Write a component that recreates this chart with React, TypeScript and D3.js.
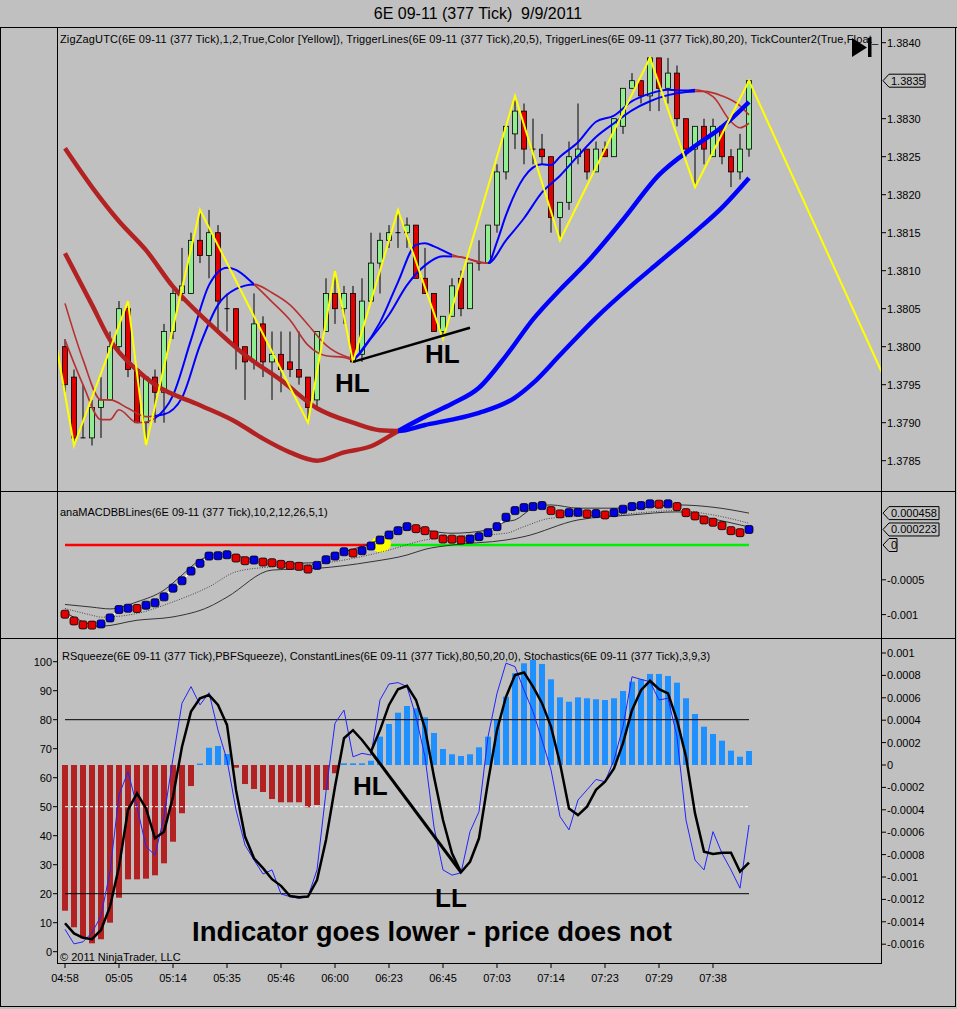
import * as d3 from "d3";

const FONT = "'Liberation Sans', Arial, Helvetica, sans-serif";
const BG = "#c0c0c0";

// x-axis labels, one every 6 bars
const timeLabels = ["04:58", "05:05", "05:14", "05:35", "05:46", "06:00", "06:23", "06:45", "07:03", "07:14", "07:23", "07:29", "07:38"];

// 377 tick bars
const opens = [1.38, 1.3796, 1.3788, 1.3788, 1.3792, 1.3793, 1.38, 1.3805, 1.3797, 1.379, 1.3796, 1.3794, 1.3802, 1.3807, 1.3807, 1.3814, 1.3812, 1.3815, 1.3805, 1.3805, 1.38, 1.3798, 1.3803, 1.3798, 1.3799, 1.3798, 1.3797, 1.3796, 1.3793, 1.3802, 1.3807, 1.3805, 1.3807, 1.3799, 1.3806, 1.3811, 1.3814, 1.3815, 1.3815, 1.3816, 1.3809, 1.3807, 1.3802, 1.3804, 1.3809, 1.3805, 1.3811, 1.3811, 1.3816, 1.3823, 1.3828, 1.3831, 1.3826, 1.3826, 1.3825, 1.3817, 1.3819, 1.3825, 1.3826, 1.3823, 1.3826, 1.3825, 1.3829, 1.3834, 1.3835, 1.3833, 1.3838, 1.3834, 1.3836, 1.383, 1.3826, 1.3829, 1.3825, 1.3829, 1.3825, 1.3823, 1.3826];
const highs = [1.3801, 1.3797, 1.3795, 1.3793, 1.3796, 1.3802, 1.3806, 1.3806, 1.3797, 1.3796, 1.3797, 1.3803, 1.3808, 1.3813, 1.3815, 1.3818, 1.3818, 1.3816, 1.3807, 1.3805, 1.38, 1.3807, 1.3804, 1.3802, 1.3802, 1.3802, 1.3802, 1.3796, 1.3802, 1.3809, 1.381, 1.3808, 1.3808, 1.3809, 1.3815, 1.3815, 1.3816, 1.3818, 1.3817, 1.3816, 1.3813, 1.3807, 1.3804, 1.3809, 1.381, 1.3811, 1.3814, 1.3816, 1.3824, 1.3829, 1.3833, 1.3832, 1.383, 1.3828, 1.3825, 1.3819, 1.3827, 1.3832, 1.3826, 1.3827, 1.3827, 1.383, 1.3834, 1.3836, 1.3835, 1.3838, 1.3838, 1.3838, 1.3837, 1.383, 1.3829, 1.383, 1.383, 1.3829, 1.3826, 1.3828, 1.3835];
const lows = [1.3794, 1.3787, 1.3788, 1.3787, 1.3788, 1.3793, 1.3799, 1.3796, 1.379, 1.3787, 1.379, 1.379, 1.3801, 1.3806, 1.3807, 1.3811, 1.3809, 1.3802, 1.3802, 1.3797, 1.3793, 1.3797, 1.3796, 1.3793, 1.3794, 1.3796, 1.3795, 1.379, 1.3792, 1.3802, 1.3803, 1.3803, 1.3798, 1.3798, 1.3806, 1.3807, 1.3813, 1.3813, 1.3813, 1.3809, 1.3807, 1.3802, 1.3801, 1.3804, 1.3804, 1.3805, 1.381, 1.3811, 1.3815, 1.3822, 1.3826, 1.3824, 1.3824, 1.3824, 1.3815, 1.3814, 1.3818, 1.3824, 1.3822, 1.3823, 1.3825, 1.3825, 1.3828, 1.3834, 1.3832, 1.3831, 1.3831, 1.3832, 1.3829, 1.3825, 1.3821, 1.3824, 1.3825, 1.3824, 1.3821, 1.3822, 1.3825];
const closes = [1.3795, 1.3788, 1.3788, 1.3792, 1.3793, 1.38, 1.3805, 1.3797, 1.379, 1.3796, 1.3794, 1.3802, 1.3807, 1.3808, 1.3814, 1.3812, 1.3815, 1.3806, 1.3805, 1.38, 1.3798, 1.3803, 1.3798, 1.3799, 1.3797, 1.3797, 1.3796, 1.3792, 1.3802, 1.3807, 1.3805, 1.3807, 1.3798, 1.3806, 1.3811, 1.3814, 1.3815, 1.3815, 1.3816, 1.3809, 1.3807, 1.3802, 1.3804, 1.3808, 1.3805, 1.3811, 1.3811, 1.3816, 1.3823, 1.3829, 1.3831, 1.3826, 1.3826, 1.3825, 1.3817, 1.3819, 1.3825, 1.3826, 1.3823, 1.3826, 1.3825, 1.383, 1.3834, 1.3835, 1.3833, 1.3838, 1.3834, 1.3836, 1.383, 1.3826, 1.3829, 1.3826, 1.3829, 1.3825, 1.3823, 1.3826, 1.3835];

// zigzag pivots [bar, price]
const zigzag: [number, number][] = [[-1, 1.38005], [1, 1.3787], [7, 1.3806], [9, 1.3787], [15, 1.3818], [27, 1.379], [30, 1.381], [32, 1.3798], [37, 1.3818], [42, 1.3801], [50, 1.3833], [55, 1.3814], [65, 1.3838], [70, 1.3821], [76, 1.3835], [91, 1.3796]];
const higherLow: [number, number][] = [[32, 1.3798], [45, 1.38025]];

// TriggerLines(80,20) - thick pair
const slow80: [number, number][] = [[0, 1.38261], [3, 1.3821], [6, 1.38165], [9, 1.38127], [12, 1.38079], [16, 1.38031], [20, 1.37989], [24, 1.37956], [28, 1.37919], [32, 1.379], [35, 1.3789], [37, 1.37889], [40, 1.37897], [43, 1.37904], [46, 1.37913], [50, 1.37933], [52, 1.37952], [55, 1.37989], [59, 1.38038], [63, 1.38081], [66, 1.38111], [70, 1.38151], [73, 1.38183], [76, 1.38222]];
const fast20: [number, number][] = [[0, 1.38123], [3, 1.38055], [5, 1.38009], [8, 1.37969], [10, 1.3795], [15, 1.37923], [19, 1.37901], [22, 1.37879], [25, 1.37861], [28, 1.3785], [31, 1.37861], [34, 1.37869], [37, 1.37889], [40, 1.37908], [43, 1.37925], [46, 1.37946], [49, 1.37988], [52, 1.38036], [55, 1.38075], [58, 1.38111], [62, 1.38167], [66, 1.38226], [70, 1.38264], [73, 1.38289], [76, 1.38322]];
const thickPhases: [number, number, string][] = [[0, 37, "down"], [37, 76, "up"]];

// TriggerLines(20,5) - thin pair
const slow20: [number, number][] = [[0, 1.38057], [2, 1.37983], [4, 1.3793], [5, 1.3793], [7, 1.37919], [9, 1.37908], [11, 1.37911], [13, 1.37933], [15, 1.38002], [17, 1.38055], [19, 1.38076], [21, 1.38082], [23, 1.38071], [25, 1.38055], [27, 1.38029], [29, 1.38002], [31, 1.37988], [32, 1.37985], [34, 1.38011], [36, 1.38042], [38, 1.38081], [40, 1.38107], [42, 1.38119], [44, 1.38118], [46, 1.38111], [47, 1.3811], [49, 1.3814], [51, 1.38169], [53, 1.38203], [55, 1.38225], [57, 1.38251], [59, 1.38276], [61, 1.38294], [63, 1.38311], [65, 1.38323], [67, 1.38331], [69, 1.38335], [71, 1.38336], [73, 1.3833], [75, 1.38317], [76, 1.38305]];
const fast5: [number, number][] = [[0, 1.38009], [2, 1.3795], [4, 1.37904], [5, 1.37904], [6, 1.37917], [8, 1.379], [9, 1.37901], [10, 1.37906], [12, 1.37936], [14, 1.38009], [16, 1.38081], [18, 1.38104], [19, 1.38101], [21, 1.38082], [23, 1.38059], [25, 1.38035], [27, 1.38002], [29, 1.37988], [31, 1.37986], [32, 1.37983], [33, 1.37996], [35, 1.38032], [37, 1.38085], [39, 1.38134], [40, 1.38136], [41, 1.38132], [43, 1.38121], [45, 1.38115], [47, 1.3811], [48, 1.38138], [49, 1.38173], [51, 1.38223], [53, 1.3824], [54, 1.38239], [55, 1.3825], [57, 1.38269], [59, 1.38296], [61, 1.38304], [63, 1.38323], [65, 1.38333], [67, 1.38338], [69, 1.38337], [70, 1.38338], [72, 1.38329], [74, 1.38296], [75, 1.38288], [76, 1.38294]];
const thinPhases: [number, number, string][] = [[0, 10, "down"], [10, 21, "up"], [21, 32, "down"], [32, 43, "up"], [43, 47, "down"], [47, 70, "up"], [70, 76, "down"]];

// anaMACDBBLines
const macd = [-0.000994, -0.001091, -0.001148, -0.001151, -0.001134, -0.001048, -0.000927, -0.000908, -0.000912, -0.000865, -0.000831, -0.000745, -0.00062, -0.000514, -0.000375, -0.000264, -0.000159, -0.000154, -0.00014, -0.000187, -0.000226, -0.000216, -0.000245, -0.000255, -0.000278, -0.000293, -0.000307, -0.000346, -0.000293, -0.000212, -0.000159, -0.000097, -0.000115, -0.000082, -0.000014, 0.000072, 0.000144, 0.000206, 0.000264, 0.000235, 0.000206, 0.000144, 0.000086, 0.000084, 0.000072, 0.000086, 0.00012, 0.000177, 0.000264, 0.000399, 0.000494, 0.000537, 0.000552, 0.000566, 0.000494, 0.000447, 0.000465, 0.00047, 0.000447, 0.000451, 0.000432, 0.000465, 0.000514, 0.000552, 0.000566, 0.000591, 0.000586, 0.000591, 0.000552, 0.000465, 0.000418, 0.00036, 0.000327, 0.000278, 0.000206, 0.000177, 0.000223];
const bbUpper: [number, number][] = [[0, -0.000854], [3, -0.000893], [5, -0.000918], [8, -0.000817], [11, -0.000648], [13, -0.000432], [15, -0.000216], [17, -0.000144], [19, -0.000159], [23, -0.000264], [28, -0.000255], [30, -0.000144], [34, 0.000024], [38, 0.000264], [41, 0.000192], [43, 0.000169], [47, 0.000216], [49, 0.000336], [50, 0.00036], [52, 0.000529], [54, 0.000576], [57, 0.000529], [63, 0.000529], [68, 0.000576], [72, 0.000543], [76, 0.000458]];
const bbMid: [number, number][] = [[0, -0.000912], [3, -0.001009], [4, -0.001037], [8, -0.000984], [12, -0.000817], [16, -0.000601], [19, -0.000385], [23, -0.000313], [28, -0.000274], [32, -0.000192], [36, -0.000072], [40, 0.000072], [43, 0.00012], [49, 0.000169], [51, 0.000264], [54, 0.000385], [61, 0.000432], [68, 0.000494], [72, 0.000432], [76, 0.000313]];
const bbLower: [number, number][] = [[0, -0.000965], [4, -0.001167], [8, -0.001081], [12, -0.001033], [16, -0.000889], [18, -0.000749], [23, -0.00036], [28, -0.000336], [34, -0.000241], [38, -0.000144], [40, -0.000062], [43, 0], [49, 0.000072], [51, 0.00012], [57, 0.00036], [63, 0.000432], [68, 0.000476], [72, 0.000375], [76, 0.000259]];

// RSqueeze histogram and Stochastics(3,9,3)
const squeeze = [-0.001301, -0.001449, -0.001547, -0.001592, -0.001556, -0.001408, -0.001185, -0.001021, -0.001021, -0.001015, -0.000985, -0.000878, -0.000685, -0.000431, -0.000188, 0.000013, 0.000154, 0.00017, 0.000098, -0.000024, -0.00017, -0.000214, -0.000241, -0.000304, -0.000333, -0.000333, -0.000333, -0.000378, -0.000357, -0.000223, -0.000074, 0.000015, 0.000015, 0.000015, 0.000038, 0.000253, 0.000366, 0.000467, 0.000527, 0.000506, 0.000426, 0.000286, 0.000143, 0.000096, 0.00008, 0.000096, 0.000158, 0.000253, 0.000402, 0.00061, 0.000819, 0.000908, 0.000938, 0.000902, 0.000765, 0.000604, 0.000565, 0.000604, 0.000596, 0.000587, 0.00058, 0.000596, 0.000661, 0.000744, 0.000765, 0.000813, 0.000813, 0.000795, 0.000735, 0.000596, 0.000455, 0.000342, 0.000277, 0.000217, 0.000128, 0.000074, 0.000125];
const stochK = [7.7, 2.7, 3.4, 6.6, 12.3, 27.6, 54.0, 62.1, 50.0, 36.2, 33.3, 46.6, 66.7, 85.7, 91.4, 85.1, 89.3, 76.4, 66.1, 48.9, 36.8, 31.6, 26.8, 28.2, 19.9, 19.0, 18.4, 19.0, 28.2, 55.2, 78.8, 83.3, 67.2, 68.4, 67.8, 86.8, 92.3, 92.8, 91.4, 81.0, 67.2, 43.0, 28.2, 26.4, 27.2, 41.4, 48.3, 74.1, 89.1, 99.5, 98.3, 90.2, 82.8, 73.0, 62.7, 46.6, 42.0, 52.3, 55.8, 59.4, 58.6, 66.1, 77.6, 94.8, 93.9, 93.1, 86.8, 87.4, 74.1, 45.4, 31.6, 28.2, 41.4, 33.9, 28.2, 21.9, 43.7];
const stochD = [9.8, 6.3, 4.8, 4.3, 7.5, 15.5, 29.3, 48.9, 54.6, 49.4, 39.1, 41.4, 53.4, 70.7, 82.8, 87.4, 88.5, 85.1, 78.2, 55.8, 39.7, 32.2, 28.8, 25.0, 22.7, 19.2, 18.8, 19.0, 24.7, 38.5, 56.9, 73.6, 76.4, 73.0, 69.0, 76.4, 85.1, 90.5, 91.7, 86.8, 77.0, 60.3, 45.4, 33.9, 27.4, 31.0, 39.1, 58.6, 76.4, 87.9, 95.4, 96.3, 91.4, 85.7, 77.6, 65.0, 49.4, 47.1, 50.0, 55.8, 58.6, 63.2, 71.9, 83.3, 90.2, 93.4, 90.5, 89.1, 79.9, 67.2, 47.7, 34.5, 33.7, 34.1, 34.1, 27.6, 30.7];
const constantLevels = [80, 50, 20];
const divergence: [number, number][] = [[34, 69.0], [44, 27.4]];

const priceTicks = d3.range(0, 12).map((k) => 1.3785 + k * 0.0005);
const macdTicks = [-0.0005, -0.001];
const squeezeTicks = d3.range(0, 14).map((k) => 0.001 - k * 0.0002);
const stochTicks = d3.range(0, 11).map((k) => k * 10);

const PLOT_L = 57, PLOT_R = 881;
const TOP = [27, 491];
const MID = [491, 638];
const BOT = [638, 963];

const phaseColor = (p: string, thick: boolean) => (p === "up" ? "#0000ff" : thick ? "#b22222" : "#b83030");

export default function App() {
  const x = d3.scaleLinear().domain([0, 76]).range([65, 749]);
  const yP = d3.scaleLinear().domain([1.3785, 1.384]).range([460.7, 42.7]);
  const yM = d3.scaleLinear().domain([-0.001, 0]).range([614.6, 545]);
  const yS = d3.scaleLinear().domain([0, 100]).range([951.7, 661.7]);
  const yH = d3.scaleLinear().domain([-0.0016, 0.001]).range([944.2, 653]);

  const priceLine = d3.line<[number, number]>().x((d) => x(d[0])).y((d) => yP(d[1])).curve(d3.curveMonotoneX);
  const zigLine = d3.line<[number, number]>().x((d) => x(d[0])).y((d) => yP(d[1]));
  const macdLine = d3.line<[number, number]>().x((d) => x(d[0])).y((d) => yM(d[1])).curve(d3.curveMonotoneX);
  const seriesM = d3.line<number>().x((_, i) => x(i)).y((d) => yM(d));
  const seriesS = d3.line<number>().x((_, i) => x(i)).y((d) => yS(d));
  const stochLine = d3.line<[number, number]>().x((d) => x(d[0])).y((d) => yS(d[1]));

  const phaseClipX = (a: number, b: number, first: boolean, last: boolean) => {
    const x0 = first ? PLOT_L : x(a);
    const x1 = last ? PLOT_R : x(b);
    return { x: x0, w: x1 - x0 };
  };

  const crossIdx = macd.findIndex((v) => v > 0) - 1;
  const bw = 5;
  const lastClose = closes[closes.length - 1];

  const txt = { fontFamily: FONT, fontSize: 11, fill: "#000" } as const;

  const tagBox = (xTip: number, y: number, label: string, w: number) => (
    <g key={label}>
      <path d={`M${xTip},${y} L${xTip + 6},${y - 6.5} L${xTip + 6 + w},${y - 6.5} L${xTip + 6 + w},${y + 6.5} L${xTip + 6},${y + 6.5} Z`} fill={BG} stroke="#000" strokeWidth={1} />
      <text x={xTip + 8} y={y + 4} {...txt}>{label}</text>
    </g>
  );

  return (
    <div style={{ position: "absolute", left: 0, top: 0 }}>
      <svg width={957} height={1009} viewBox="0 0 957 1009" style={{ display: "block", background: BG }}>
        <defs>
          <clipPath id="clipTop"><rect x={PLOT_L} y={TOP[0]} width={PLOT_R - PLOT_L} height={TOP[1] - TOP[0]} /></clipPath>
          {thickPhases.map(([a, b], k) => {
            const c = phaseClipX(a, b, k === 0, k === thickPhases.length - 1);
            return <clipPath key={"tk" + k} id={"thick" + k}><rect x={c.x} y={TOP[0]} width={c.w} height={TOP[1] - TOP[0]} /></clipPath>;
          })}
          {thinPhases.map(([a, b], k) => {
            const c = phaseClipX(a, b, k === 0, k === thinPhases.length - 1);
            return <clipPath key={"tn" + k} id={"thin" + k}><rect x={c.x} y={TOP[0]} width={c.w} height={TOP[1] - TOP[0]} /></clipPath>;
          })}
        </defs>

        {/* title */}
        <text x={478} y={19} textAnchor="middle" fontFamily={FONT} fontSize={16} style={{ whiteSpace: "pre" }}>{"6E 09-11 (377 Tick)  9/9/2011"}</text>

        {/* ---------- price panel ---------- */}
        <g clipPath="url(#clipTop)">
          {d3.range(0, 77).map((i) => {
            const up = closes[i] > opens[i];
            const doji = closes[i] === opens[i];
            const top = yP(Math.max(opens[i], closes[i]));
            const bot = yP(Math.min(opens[i], closes[i]));
            return (
              <g key={i}>
                <line x1={x(i)} x2={x(i)} y1={yP(highs[i])} y2={yP(lows[i])} stroke="#000" strokeWidth={1} />
                {doji ? (
                  <line x1={x(i) - bw / 2} x2={x(i) + bw / 2} y1={top} y2={top} stroke="#000" strokeWidth={1} />
                ) : (
                  <rect x={x(i) - bw / 2} y={top} width={bw} height={Math.max(1, bot - top)} fill={up ? "#90ee90" : "#e00000"} stroke="#000" strokeWidth={0.8} />
                )}
              </g>
            );
          })}

          {thinPhases.map(([, , p], k) => (
            <g key={"thin" + k} clipPath={`url(#thin${k})`}>
              <path d={priceLine(slow20) ?? ""} fill="none" stroke={phaseColor(p, false)} strokeWidth={p === "up" ? 2 : 1.6} />
              <path d={priceLine(fast5) ?? ""} fill="none" stroke={phaseColor(p, false)} strokeWidth={p === "up" ? 2 : 1.6} />
            </g>
          ))}
          {thickPhases.map(([, , p], k) => (
            <g key={"thick" + k} clipPath={`url(#thick${k})`}>
              <path d={priceLine(slow80) ?? ""} fill="none" stroke={phaseColor(p, true)} strokeWidth={4.5} />
              <path d={priceLine(fast20) ?? ""} fill="none" stroke={phaseColor(p, true)} strokeWidth={4.5} />
            </g>
          ))}

          <path d={zigLine(zigzag) ?? ""} fill="none" stroke="#ffff00" strokeWidth={2} />
          <path d={zigLine(higherLow) ?? ""} fill="none" stroke="#000" strokeWidth={2.5} />
        </g>
        <text x={335} y={392} fontFamily={FONT} fontSize={26} fontWeight="bold">HL</text>
        <text x={425} y={363} fontFamily={FONT} fontSize={26} fontWeight="bold">HL</text>

        <text x={60} y={43} {...txt} textLength={818} lengthAdjust="spacing">ZigZagUTC(6E 09-11 (377 Tick),1,2,True,Color [Yellow]), TriggerLines(6E 09-11 (377 Tick),20,5), TriggerLines(6E 09-11 (377 Tick),80,20), TickCounter2(True,Float_</text>
        {/* scroll-to-end icon */}
        <path d="M852,38 L852,57 L867,47.5 Z" fill="#000" />
        <rect x={868} y={38} width={3.5} height={19} fill="#000" />

        {priceTicks.filter((t) => Math.abs(yP(t) - yP(lastClose)) > 8).map((t) => (
          <g key={t}>
            <line x1={PLOT_R} x2={PLOT_R + 5} y1={yP(t)} y2={yP(t)} stroke="#000" />
            <text x={PLOT_R + 6} y={yP(t) + 4} {...txt}>{t.toFixed(4)}</text>
          </g>
        ))}
        <g>{tagBox(PLOT_R + 2, yP(lastClose), lastClose.toFixed(4), 36)}</g>

        {/* ---------- MACD panel ---------- */}
        <text x={60} y={516} {...txt}>anaMACDBBLines(6E 09-11 (377 Tick),10,2,12,26,5,1)</text>
        <line x1={x(0)} x2={x(crossIdx)} y1={yM(0)} y2={yM(0)} stroke="#ff0000" strokeWidth={2.5} />
        <line x1={x(crossIdx)} x2={x(76)} y1={yM(0)} y2={yM(0)} stroke="#00ee00" strokeWidth={2.5} />
        <ellipse cx={x(crossIdx) + 10} cy={yM(0) - 1} rx={10} ry={8.5} fill="#ffff00" />
        <path d={macdLine(bbUpper) ?? ""} fill="none" stroke="#333" strokeWidth={1} />
        <path d={macdLine(bbLower) ?? ""} fill="none" stroke="#333" strokeWidth={1} />
        <path d={macdLine(bbMid) ?? ""} fill="none" stroke="#444" strokeWidth={1} strokeDasharray="1,1.5" />
        <path d={seriesM(macd) ?? ""} fill="none" stroke="#fff" strokeWidth={1.5} />
        {macd.map((v, i) => {
          const rising = i === 0 ? false : v >= macd[i - 1];
          return <rect key={i} x={x(i) - 4} y={yM(v) - 4} width={8} height={8} rx={2} fill={rising ? "#0000e0" : "#e00000"} stroke="#000" strokeWidth={0.8} />;
        })}
        {macdTicks.map((t) => (
          <g key={t}>
            <line x1={PLOT_R} x2={PLOT_R + 5} y1={yM(t)} y2={yM(t)} stroke="#000" />
            <text x={PLOT_R + 6} y={yM(t) + 4} {...txt}>{String(t)}</text>
          </g>
        ))}
        {tagBox(PLOT_R + 2, yM(0), "0", 8)}
        {tagBox(PLOT_R + 2, yM(bbUpper[bbUpper.length - 1][1]), bbUpper[bbUpper.length - 1][1].toFixed(6), 50)}
        {tagBox(PLOT_R + 2, yM(macd[76]), macd[76].toFixed(6), 50)}

        {/* ---------- squeeze / stochastics panel ---------- */}
        <text x={62} y={660} {...txt}>RSqueeze(6E 09-11 (377 Tick),PBFSqueeze), ConstantLines(6E 09-11 (377 Tick),80,50,20,0), Stochastics(6E 09-11 (377 Tick),3,9,3)</text>
        {squeeze.map((v, i) => {
          const y0 = yH(0), y1 = yH(v);
          return <rect key={i} x={x(i) - 3} y={Math.min(y0, y1)} width={6} height={Math.max(1.5, Math.abs(y1 - y0))} fill={v >= 0 ? "#1e90ff" : "#b22222"} />;
        })}
        {constantLevels.map((lv) => (
          <line key={lv} x1={x(0)} x2={x(76)} y1={yS(lv)} y2={yS(lv)} stroke={lv === 50 ? "#fff" : "#000"} strokeWidth={1} strokeDasharray={lv === 50 ? "3,2" : undefined} />
        ))}
        <path d={seriesS(stochK) ?? ""} fill="none" stroke="#2222ff" strokeWidth={1} />
        <path d={seriesS(stochD) ?? ""} fill="none" stroke="#000" strokeWidth={2.5} />
        <path d={stochLine(divergence) ?? ""} fill="none" stroke="#000" strokeWidth={3} />
        <text x={353} y={795} fontFamily={FONT} fontSize={26} fontWeight="bold">HL</text>
        <text x={435} y={907} fontFamily={FONT} fontSize={26} fontWeight="bold">LL</text>
        <text x={192} y={941} fontFamily={FONT} fontSize={27.5} fontWeight="bold">Indicator goes lower - price does not</text>
        <text x={60} y={961} {...txt}>© 2011 NinjaTrader, LLC</text>

        {stochTicks.map((t) => (
          <g key={t}>
            <line x1={PLOT_L - 4} x2={PLOT_L} y1={yS(t)} y2={yS(t)} stroke="#000" />
            <text x={PLOT_L - 5} y={yS(t) + 4} textAnchor="end" {...txt}>{t}</text>
          </g>
        ))}
        {squeezeTicks.map((t) => (
          <g key={t}>
            <line x1={PLOT_R} x2={PLOT_R + 5} y1={yH(t)} y2={yH(t)} stroke="#000" />
            <text x={PLOT_R + 6} y={yH(t) + 4} {...txt}>{String(+t.toFixed(4))}</text>
          </g>
        ))}
        {timeLabels.map((lab, k) => (
          <g key={lab}>
            <line x1={x(k * 6)} x2={x(k * 6)} y1={BOT[1]} y2={BOT[1] + 5} stroke="#000" />
            <text x={x(k * 6)} y={982} textAnchor="middle" {...txt}>{lab}</text>
          </g>
        ))}

        {/* frame */}
        <g stroke="#000" strokeWidth={1} fill="none">
          <line x1={0} x2={957} y1={27.5} y2={27.5} />
          <line x1={0.5} x2={0.5} y1={27} y2={1007} />
          <line x1={955.5} x2={955.5} y1={27} y2={1007} />
          <line x1={0} x2={956} y1={1006.5} y2={1006.5} />
          <line x1={0} x2={956} y1={MID[0] + 0.5} y2={MID[0] + 0.5} />
          <line x1={0} x2={956} y1={MID[1] + 0.5} y2={MID[1] + 0.5} />
          <line x1={PLOT_L + 0.5} x2={PLOT_L + 0.5} y1={TOP[0]} y2={BOT[1]} />
          <line x1={PLOT_R + 0.5} x2={PLOT_R + 0.5} y1={TOP[0]} y2={BOT[1]} />
          <line x1={PLOT_L} x2={PLOT_R + 1} y1={BOT[1] + 0.5} y2={BOT[1] + 0.5} />
        </g>
      </svg>
    </div>
  );
}
